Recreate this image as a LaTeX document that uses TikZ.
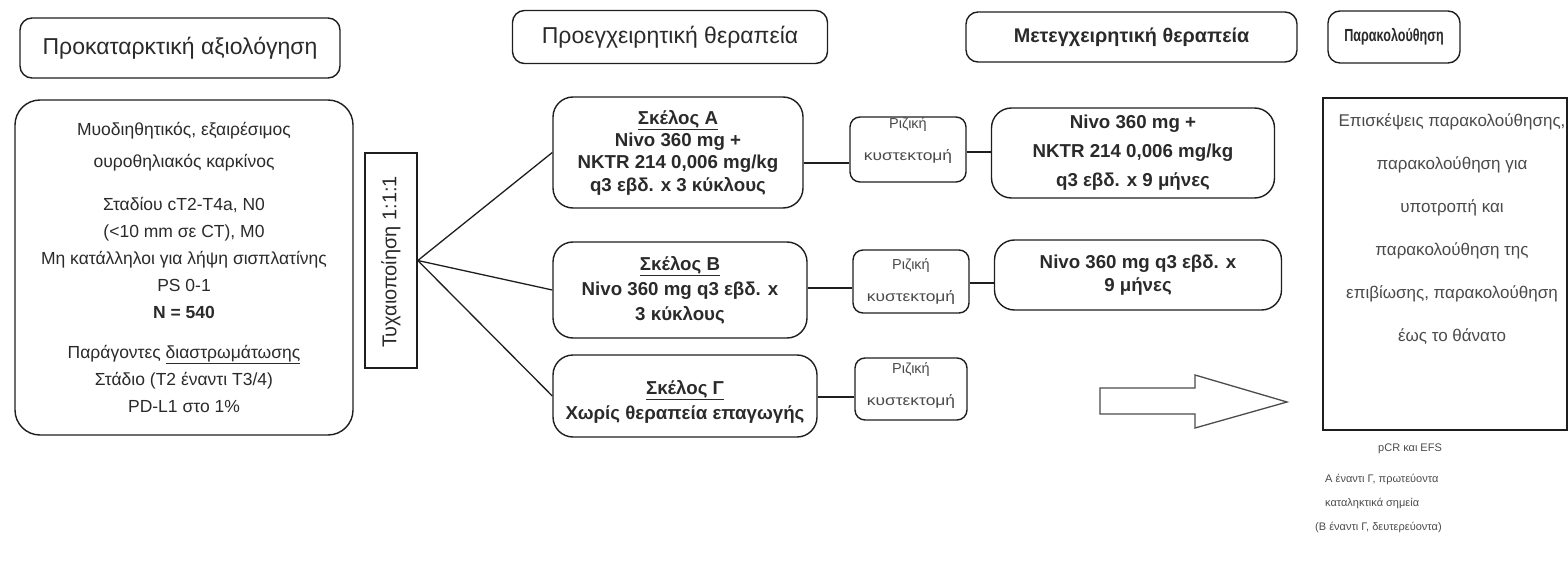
\documentclass[tikz,border=0pt]{standalone}
\usepackage{fontspec}
\setmainfont{Liberation Sans}
\newfontfamily\narrowfont[FakeStretch=0.72]{Liberation Sans}
\newfontfamily\widefont[FakeStretch=1.2]{Liberation Sans}
\definecolor{ln}{HTML}{1E1E1E}
\definecolor{txt}{HTML}{2A2A2A}
\definecolor{txtlight}{HTML}{4A4A4A}
\begin{document}
\begin{tikzpicture}[x=1pt,y=-1pt,
  every node/.style={text=txt, inner sep=0pt},
  hdr/.style={draw=ln, line width=1.4pt, rounded corners=12pt, font=\fontsize{23}{26}\selectfont},
  bigbox/.style={draw=ln, line width=1.4pt, rounded corners=25pt, align=center},
  arm/.style={draw=ln, line width=1.4pt, rounded corners=20pt, align=center, font=\bfseries\fontsize{18.7}{22.3}\selectfont},
  surg/.style={draw=ln, line width=1.4pt, rounded corners=10pt, align=center, text=txtlight, font=\fontsize{14.5}{32}\selectfont},
  plainbox/.style={draw=ln, line width=1.6pt},
  conn/.style={draw=ln, line width=1.3pt},
  blockarrow/.style={draw=ln!80, line width=1.3pt, fill=white}
]
\useasboundingbox (0,0) rectangle (1568,564);

% headers
\node[hdr, minimum width=320pt, minimum height=60pt] (h1) at (180,48) {Προκαταρκτική αξιολόγηση};
\node[hdr, minimum width=315pt, minimum height=53pt] (h2) at (670,37) {Προεγχειρητική θεραπεία};
\node[hdr, minimum width=331pt, minimum height=50pt, font=\bfseries\fontsize{19.8}{22}\selectfont] (h3) at (1131.5,37) {Μετεγχειρητική θεραπεία};
\node[hdr, minimum width=132pt, minimum height=52pt, font=\narrowfont\bfseries\fontsize{17.5}{22}\selectfont] (h4) at (1394,37) {Παρακολούθηση};

% left box
\node[bigbox, minimum width=338pt, minimum height=335pt, font=\fontsize{17.5}{27}\selectfont] (left) at (184,267.5)
 {Μυοδιηθητικός, εξαιρέσιμος\\[5pt]
  ουροθηλιακός καρκίνος\\[16pt]
  Σταδίου cT2-T4a, N0\\
  (<10 mm σε CT), M0\\
  Μη κατάλληλοι για λήψη σισπλατίνης\\
  PS 0-1\\
  \textbf{N = 540}\\[13pt]
  Παράγοντες \underline{διαστρωμάτωσης}\\
  Στάδιο (T2 έναντι T3/4)\\
  PD-L1 στο 1\%};

% randomisation
\node[plainbox, minimum width=52pt, minimum height=215pt] (rand) at (391,260.5) {};
\node[rotate=90, font=\fontsize{20}{24}\selectfont] (randtxt) at (391,262) {Τυχαιοποίηση 1:1:1};

% arms
\node[arm, minimum width=250pt, minimum height=111pt] (armA) at (678,152.5)
 {\underline{Σκέλος Α}\\ Nivo 360 mg +\\ NKTR 214 0,006 mg/kg\\ q3 εβδ. x 3 κύκλους};
\node[arm, minimum width=254pt, minimum height=96pt, font=\bfseries\fontsize{18.7}{25}\selectfont] (armB) at (680,290)
 {\underline{Σκέλος Β}\\ Nivo 360 mg q3 εβδ. x\\ 3 κύκλους};
\node[arm, minimum width=264pt, minimum height=82pt, font=\bfseries\fontsize{18.7}{25}\selectfont] (armC) at (685,396)
 {\rule{0pt}{26pt}\underline{Σκέλος Γ}\\ Χωρίς θεραπεία επαγωγής};

% surgery
\node[surg, minimum width=116pt, minimum height=65pt, text depth=21pt] (surgA) at (908,149.5) {Ριζική\\ {\widefont κυστεκτομή}};
\node[surg, minimum width=116pt, minimum height=63pt] (surgB) at (911,281.5) {Ριζική\\ {\widefont κυστεκτομή}};
\node[surg, minimum width=112pt, minimum height=62pt, text depth=9pt] (surgC) at (911,389) {Ριζική\\ {\widefont κυστεκτομή}};

% postoperative
\node[arm, minimum width=283pt, minimum height=90pt, font=\bfseries\fontsize{18.7}{29}\selectfont] (postA) at (1133,153)
 {Nivo 360 mg +\\ NKTR 214 0,006 mg/kg\\ q3 εβδ. x 9 μήνες};
\node[arm, minimum width=287pt, minimum height=70pt, font=\bfseries\fontsize{18.7}{23}\selectfont] (postB) at (1138,275)
 {Nivo 360 mg q3 εβδ. x\\ 9 μήνες};

% follow-up
\node[plainbox, minimum width=244pt, minimum height=332pt] (follow) at (1445,264) {};
\node[align=center, text=txtlight, font=\fontsize{17}{43}\selectfont] (followtxt) at (1452,229)
 {Επισκέψεις παρακολούθησης,\\ παρακολούθηση για\\ υποτροπή και\\ παρακολούθηση της\\ επιβίωσης, παρακολούθηση\\ έως το θάνατο};

\node[align=left, anchor=north west, text=txtlight, font=\fontsize{11}{24}\selectfont] (endpoints) at (1325,444)
 {\hspace*{53pt}pCR και EFS\\[7pt]
  Α έναντι Γ, πρωτεύοντα\\
  καταληκτικά σημεία\\
  \hspace*{-10pt}(Β έναντι Γ, δευτερεύοντα)};

% block arrow
\draw[blockarrow] (1100,388) -- (1195,388) -- (1195,375) -- (1287,402) -- (1195,428) -- (1195,414) -- (1100,414) -- cycle;

% connectors
\draw[conn] (rand.east) -- (armA.west);
\draw[conn] (rand.east) -- (armB.west);
\draw[conn] (rand.east) -- (armC.west);
\draw[conn] (armA.east |- 0,163) -- (surgA.west |- 0,163);
\draw[conn] (armB.east |- 0,288) -- (surgB.west |- 0,288);
\draw[conn] (armC.east |- 0,397) -- (surgC.west |- 0,397);
\draw[conn] (surgA.east |- 0,152) -- (postA.west |- 0,152);
\draw[conn] (surgB.east |- 0,283) -- (postB.west |- 0,283);
\end{tikzpicture}
\end{document}
